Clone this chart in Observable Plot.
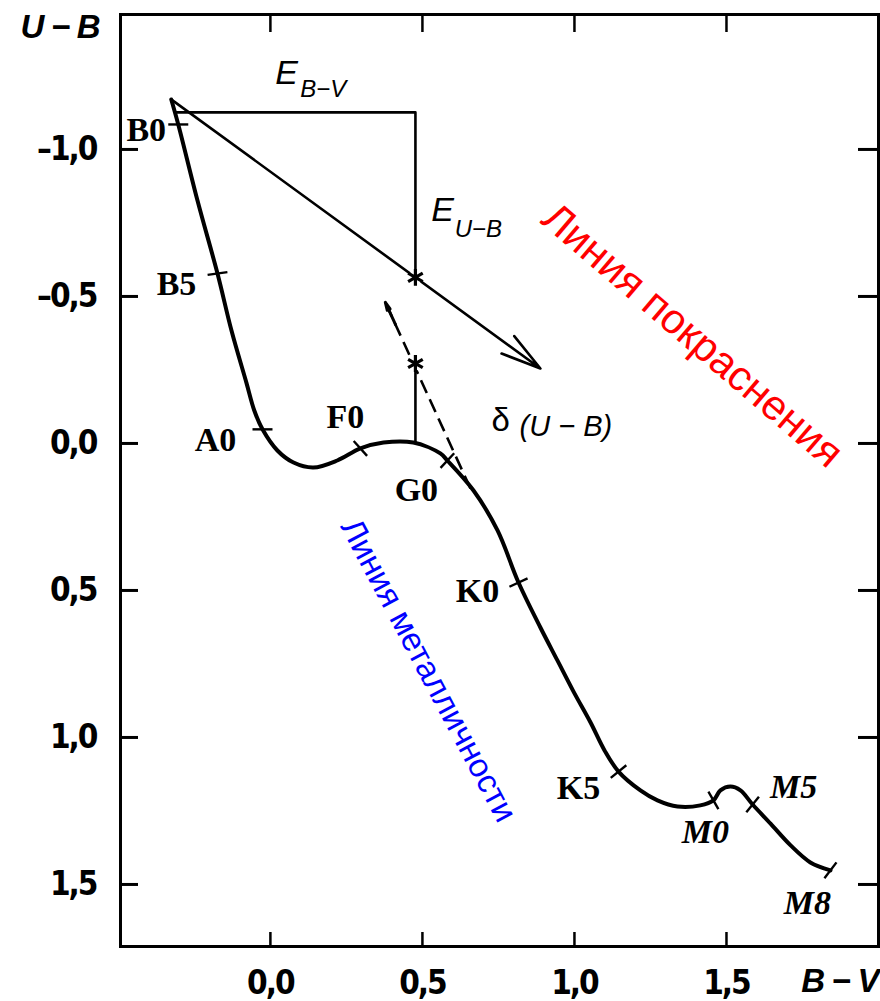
<!DOCTYPE html>
<html>
<head>
<meta charset="utf-8">
<script src="https://cdn.jsdelivr.net/npm/d3@7"></script>
<script src="https://cdn.jsdelivr.net/npm/@observablehq/plot@0.6"></script>
<style>
  body { margin: 0; background: #fff; }
  #chart svg { display: block; }
  /* condensed digits for the tick labels */
  #chart g[aria-label$="tick label"] text { letter-spacing: -2px; }
</style>
</head>
<body>
<div id="chart"></div>
<script>
// Two-colour diagram (U−B against B−V): the main-sequence line with spectral
// classes, the colour-excess triangle with the reddening line, and the
// ultraviolet-excess shift δ(U−B) along the metallicity line.

// Main-sequence line
const seqBV = [-0.326, -0.303, -0.240, -0.174, -0.128, -0.079, -0.053, -0.026, 0.023, 0.076,
  0.141, 0.220, 0.296, 0.372, 0.470, 0.559, 0.582, 0.668, 0.747, 0.816,
  0.888, 0.944, 0.997, 1.053, 1.099, 1.145, 1.217, 1.273, 1.339, 1.414,
  1.457, 1.480, 1.513, 1.546, 1.586, 1.645, 1.711, 1.776, 1.842];
const seqUB = [-1.170, -1.085, -0.827, -0.578, -0.384, -0.207, -0.112, -0.048, 0.024, 0.065,
  0.082, 0.058, 0.017, -0.003, -0.003, 0.034, 0.058, 0.160, 0.296, 0.473,
  0.626, 0.738, 0.844, 0.949, 1.044, 1.116, 1.180, 1.214, 1.235, 1.231,
  1.214, 1.180, 1.167, 1.180, 1.228, 1.293, 1.367, 1.425, 1.452];

// Spectral classes marked on the line
const classNames = ["B0", "B5", "A0", "F0", "G0", "K0", "K5", "M0", "M5", "M8"];
const classBV = [-0.303, -0.174, -0.026, 0.296, 0.582, 0.816, 1.145, 1.457, 1.586, 1.842];
const classUB = [-1.085, -0.578, -0.048, 0.017, 0.058, 0.473, 1.116, 1.214, 1.228, 1.452];

// Colour excess and reddening line
const reddenFrom = [-0.322, -1.167];
const reddenStar = [0.477, -0.565];
const reddenTo = [0.888, -0.255];
const excessStart = [-0.313, -1.126];
const excessCorner = [0.477, -1.126];

// Ultraviolet excess along the metallicity line
const metalStar = [0.477, -0.272];
const metalFoot = [0.477, -0.003];
const metalFrom = [0.658, 0.153];
const metalTo = [0.378, -0.480];

// Axes
const xTicks = [0, 0.5, 1.0, 1.5];
const yTicks = [-1.0, -0.5, 0, 0.5, 1.0, 1.5];
const xLabel = "B\u2009−\u2009V";
const yLabel = "U\u2009−\u2009B";

// Captions
const reddeningTitle = "Линия покраснения";
const metallicityTitle = "Линия металличности";

// ---- layout ----
const W = 880, H = 1001;
const M = {top: 14, right: 2, bottom: 55, left: 120};
const xDomain = [-0.493, 2.0];
const yDomain = [-1.459, 1.711];
const kx = (W - M.left - M.right) / (xDomain[1] - xDomain[0]);   // px per unit of B−V
const ky = (H - M.top - M.bottom) / (yDomain[1] - yDomain[0]);   // px per unit of U−B

const sans = "'Liberation Sans', Arial, sans-serif";
const narrow = "'DejaVu Sans Condensed', 'Liberation Sans', sans-serif";
const serif = "'Liberation Serif', 'DejaVu Serif', serif";

// tick orientation on the line (degrees, screen space) and label offsets (px)
const classTickAngle = [0, -8, 0, 48, -47, -25, -39, 60, -51, -53];
const classLabelOffset = [[-32, 6], [-41, 11], [-47, 11], [-15, -31], [-31, 30],
  [-41, 9], [-40, 17], [-8, 32], [41, -17], [-23, 33]];
const tickHalf = 10;

const sequence = seqBV.map((bv, i) => ({bv, ub: seqUB[i]}));
const classes = classNames.map((name, i) => ({
  name, bv: classBV[i], ub: classUB[i], angle: classTickAngle[i] * Math.PI / 180
}));

const fmt = d => (d < 0 ? "–" : "") + Math.abs(d).toFixed(1).replace(".", ",");
const pt = ([bv, ub]) => ({bv, ub});
const seg = (a, b) => ({x1: a[0], y1: a[1], x2: b[0], y2: b[1]});

const chart = Plot.plot({
  width: W,
  height: H,
  marginTop: M.top,
  marginRight: M.right,
  marginBottom: M.bottom,
  marginLeft: M.left,
  style: {background: "#fff", overflow: "visible", color: "#000"},
  x: {domain: xDomain},
  y: {domain: yDomain, reverse: true},
  marks: [
    Plot.frame({stroke: "#000", strokeWidth: 3}),

    // inward ticks on all four sides
    Plot.ruleY(yTicks, {y: d => d, x1: xDomain[0], x2: xDomain[0] + 18 / kx, strokeWidth: 3}),
    Plot.ruleY(yTicks, {y: d => d, x1: xDomain[1] - 20 / kx, x2: xDomain[1], strokeWidth: 3}),
    Plot.ruleX(xTicks, {x: d => d, y1: yDomain[1] - 14 / ky, y2: yDomain[1], strokeWidth: 2.5}),
    Plot.ruleX(xTicks, {x: d => d, y1: yDomain[0], y2: yDomain[0] + 18 / ky, strokeWidth: 2.5}),

    Plot.axisX(xTicks, {anchor: "bottom", tickSize: 0, tickPadding: 24, tickFormat: fmt, label: null,
      fontSize: 33, fontWeight: "bold", fontFamily: narrow}),
    Plot.axisY(yTicks, {anchor: "left", tickSize: 0, tickPadding: 24, tickFormat: fmt, label: null,
      fontSize: 33, fontWeight: "bold", fontFamily: narrow}),

    Plot.text([yLabel], {frameAnchor: "top-left", dx: -100, dy: 0, fontSize: 33, fontWeight: "bold",
      fontStyle: "italic", fontFamily: sans}),
    Plot.text([xLabel], {frameAnchor: "bottom-right", dx: 1, dy: 45, fontSize: 33, fontWeight: "bold",
      fontStyle: "italic", fontFamily: sans}),

    // colour excess E(B−V), E(U−B)
    Plot.line([pt(excessStart), pt(excessCorner), pt(reddenStar)], {x: "bv", y: "ub", strokeWidth: 2.6}),
    // reddening line
    Plot.arrow([seg(reddenFrom, reddenTo)], {x1: "x1", y1: "y1", x2: "x2", y2: "y2",
      strokeWidth: 2.6, headLength: 24, headAngle: 30}),

    // ultraviolet excess
    Plot.link([seg(metalStar, metalFoot)], {x1: "x1", y1: "y1", x2: "x2", y2: "y2", strokeWidth: 2.6}),
    Plot.link([seg(metalFrom, metalTo)], {x1: "x1", y1: "y1", x2: "x2", y2: "y2",
      strokeWidth: 2.6, strokeDasharray: "14,7"}),
    Plot.arrow([{
      x1: metalTo[0] + (metalFrom[0] - metalTo[0]) * 0.12,
      y1: metalTo[1] + (metalFrom[1] - metalTo[1]) * 0.12,
      x2: metalTo[0], y2: metalTo[1]
    }], {x1: "x1", y1: "y1", x2: "x2", y2: "y2", strokeWidth: 3, headLength: 24, headAngle: 22}),

    // main-sequence line
    Plot.line(sequence, {x: "bv", y: "ub", curve: "catmull-rom", strokeWidth: 4, stroke: "#000"}),

    // spectral class ticks
    Plot.link(classes, {
      x1: d => d.bv - tickHalf * Math.cos(d.angle) / kx,
      y1: d => d.ub - tickHalf * Math.sin(d.angle) / ky,
      x2: d => d.bv + tickHalf * Math.cos(d.angle) / kx,
      y2: d => d.ub + tickHalf * Math.sin(d.angle) / ky,
      strokeWidth: 2.4
    }),
    ...classes.map((c, i) => Plot.text([c], {
      x: "bv", y: "ub", text: "name",
      dx: classLabelOffset[i][0], dy: classLabelOffset[i][1],
      fontFamily: serif, fontWeight: "bold", fontSize: 34,
      fontStyle: c.name[0] === "M" ? "italic" : "normal"
    })),

    // stars
    Plot.dot([pt(reddenStar), pt(metalStar)], {x: "bv", y: "ub", r: 7, fill: "#fff", stroke: null}),
    Plot.dot([pt(reddenStar), pt(metalStar)], {x: "bv", y: "ub", symbol: "asterisk", r: 8,
      stroke: "#000", strokeWidth: 3.2}),

    // annotations
    Plot.text([{bv: 0.053, ub: -1.259, t: "E"}], {x: "bv", y: "ub", text: "t", fontSize: 34,
      fontStyle: "italic", fontFamily: sans}),
    Plot.text([{bv: 0.174, ub: -1.204, t: "B−V"}], {x: "bv", y: "ub", text: "t", fontSize: 24,
      fontStyle: "italic", fontFamily: sans}),
    Plot.text([{bv: 0.566, ub: -0.793, t: "E"}], {x: "bv", y: "ub", text: "t", fontSize: 34,
      fontStyle: "italic", fontFamily: sans}),
    Plot.text([{bv: 0.684, ub: -0.728, t: "U−B"}], {x: "bv", y: "ub", text: "t", fontSize: 24,
      fontStyle: "italic", fontFamily: sans}),
    Plot.text([{bv: 0.757, ub: -0.078, t: "δ"}], {x: "bv", y: "ub", text: "t", fontSize: 33,
      fontFamily: sans}),
    Plot.text([{bv: 0.972, ub: -0.058, t: "(U − B)"}], {x: "bv", y: "ub", text: "t", fontSize: 29,
      fontStyle: "italic", fontFamily: sans}),

    Plot.text([{bv: 1.388, ub: -0.367, t: reddeningTitle}], {x: "bv", y: "ub", text: "t",
      rotate: 40.6, fontSize: 42, fill: "#ff0000", fontFamily: sans}),
    Plot.text([{bv: 0.520, ub: 0.772, t: metallicityTitle}], {x: "bv", y: "ub", text: "t",
      rotate: 62, fontSize: 33, fill: "#0000ff", fontFamily: sans})
  ]
});

document.getElementById("chart").appendChild(chart);
</script>
</body>
</html>
